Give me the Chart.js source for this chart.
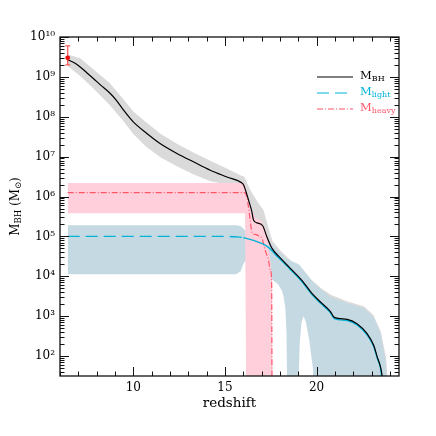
<!DOCTYPE html>
<html>
<head>
<meta charset="utf-8">
<script src="https://cdn.jsdelivr.net/npm/chart.js@4.4.0/dist/chart.umd.min.js"></script>
<style>
  html, body { margin: 0; padding: 0; background: #fff; }
  canvas { display: block; }
</style>
</head>
<body>
<canvas id="bh-chart" width="436" height="436"></canvas>
<script>
// observed quasar (z, mass, error range)
const quasarZ = [6.42];
const quasarMass = [3e9];
const quasarRange = [2e9, 6e9];

// total black hole mass, log10(M/Msun)
const zBH = [6.42, 6.8, 7.1, 7.45, 7.82, 8.2, 8.73, 9.1, 9.46, 10.0, 10.74, 11.46, 12.38, 13.28, 14.2, 15.11, 15.93, 16.02, 16.11, 16.29, 16.47, 16.56, 16.75, 17.07, 17.29, 17.57, 18.02, 18.57, 19.2, 19.75, 20.3, 20.75, 20.97, 21.67, 22.21, 22.76, 23.12, 23.31, 23.49, 23.58, 23.64];
const logBH = [9.43, 9.35, 9.25, 9.11, 8.96, 8.80, 8.59, 8.40, 8.17, 7.87, 7.58, 7.33, 7.08, 6.87, 6.66, 6.49, 6.34, 6.29, 6.18, 5.91, 5.62, 5.41, 5.34, 5.26, 4.99, 4.70, 4.46, 4.20, 3.90, 3.57, 3.32, 3.12, 2.97, 2.92, 2.81, 2.56, 2.27, 1.98, 1.73, 1.5, 1.2];

// light seeds
const zLight = [6.42, 15.0, 15.6, 16.0, 16.56, 17.2, 17.6, 17.84, 18.02, 18.57, 19.2, 19.75, 20.3, 20.75, 20.97, 21.67, 22.21, 22.76, 23.12, 23.31, 23.49, 23.6];
const logLight = [5.0, 5.0, 4.99, 4.97, 4.9, 4.78, 4.63, 4.5, 4.43, 4.17, 3.87, 3.54, 3.29, 3.09, 2.94, 2.89, 2.78, 2.53, 2.24, 1.95, 1.7, 1.3];

// heavy seeds
const zHeavy = [6.42, 16.08, 16.2, 16.38, 16.47, 16.66, 16.9, 17.02, 17.2, 17.38, 17.48, 17.55, 17.57];
const logHeavy = [6.10, 6.10, 5.98, 5.41, 5.11, 5.05, 5.0, 4.95, 4.65, 4.40, 4.15, 3.9, 1.0];

// scatter bands (upper / lower edge)
const zGrey = [6.42, 7.1, 7.8, 8.7, 9.5, 10.0, 10.7, 11.5, 12.4, 13.3, 14.2, 15.1, 15.9, 16.05, 16.4, 16.8, 17.1, 17.4, 17.6, 18.0, 18.6, 19.2, 19.8, 20.3, 20.8, 21.7, 22.6, 23.1, 23.5, 23.8, 23.9];
const greyHi = [9.56, 9.47, 9.2, 8.85, 8.42, 8.13, 7.86, 7.57, 7.32, 7.1, 6.9, 6.7, 6.52, 6.5, 6.15, 5.85, 5.66, 5.18, 4.88, 4.66, 4.39, 4.12, 3.88, 3.68, 3.53, 3.37, 3.24, 3.03, 2.62, 1.95, 1.2];
const greyLo = [9.27, 9.02, 8.72, 8.3, 7.87, 7.57, 7.25, 6.98, 6.75, 6.55, 6.38, 6.3, 6.0, 5.9, 5.3, 5.0, 4.85, 4.6, 4.3, 4.1, 3.9, 3.6, 3.3, 3.1, 2.9, 2.7, 2.4, 2.1, 1.6, 1.2, 1.2];

const zPink = [6.42, 16.0, 16.1, 16.16, 16.3, 16.5, 16.7, 17.0, 17.2, 17.35, 17.5, 17.57, 17.6];
const pinkHi = [6.34, 6.34, 6.30, 6.15, 5.92, 5.62, 5.45, 5.38, 5.2, 4.85, 4.3, 3.9, 1.0];
const pinkLo = [5.58, 5.58, 5.58, 1.0, 1.0, 1.0, 1.0, 1.0, 1.0, 1.0, 1.0, 1.0, 1.0];

const zBlue = [6.42, 15.6, 15.85, 16.0, 16.2, 16.6, 17.2, 17.57, 17.9, 18.1, 18.2, 18.3, 18.36, 18.4, 19.0, 19.08, 19.18, 19.3, 19.42, 19.6, 19.8, 19.85, 20.75, 21.7, 22.6, 23.1, 23.5, 23.75, 23.85];
const blueHi = [5.28, 5.28, 5.26, 5.2, 5.1, 4.95, 4.85, 4.78, 4.62, 4.55, 4.5, 4.46, 4.44, 4.43, 4.31, 4.28, 4.22, 4.15, 4.08, 3.98, 3.86, 3.83, 3.48, 3.32, 3.19, 2.98, 2.56, 1.9, 1.2];
const blueLo = [4.05, 4.05, 4.12, 4.3, 4.45, 4.45, 4.2, 3.92, 3.8, 3.65, 3.5, 3.2, 2.6, 1.0, 1.0, 2.3, 2.85, 3.0, 2.85, 2.4, 1.7, 1.0, 1.0, 1.0, 1.0, 1.0, 1.0, 1.0, 1.0];

// axes
const xTickValues = [10, 15, 20];
const yTickExps = [2, 3, 4, 5, 6, 7, 8, 9, 10];

const SERIF = '"DejaVu Serif", "Liberation Serif", serif';
const cBH = '#000';
const cLight = 'rgb(0,178,215)';
const cHeavy = 'rgb(255,85,105)';

function toPoints(zs, logs) {
    return zs.map((z, i) => ({x: z, y: Math.pow(10, logs[i])}));
}

function supNum(n) {
    const sup = '⁰¹²³⁴⁵⁶⁷⁸⁹';
    return String(n).split('').map(d => sup[+d]).join('');
}

function band(zs, logs, color, order, fill) {
    return {
        data: toPoints(zs, logs),
        showLine: true,
        borderWidth: 0,
        borderColor: 'rgba(0,0,0,0)',
        backgroundColor: color,
        pointRadius: 0,
        fill: fill,
        order: order
    };
}

// draws text pieces one after another (for subscripts)
function drawRich(ctx, parts, x, y) {
    let cx = x;
    for (const [text, size, dy] of parts) {
        ctx.font = size + 'px ' + SERIF;
        ctx.fillText(text, cx, y + dy);
        cx += ctx.measureText(text).width;
    }
}

function richWidth(ctx, parts) {
    let w = 0;
    for (const [text, size] of parts) {
        ctx.font = size + 'px ' + SERIF;
        w += ctx.measureText(text).width;
    }
    return w;
}

const frameTicks = {
    id: 'frameTicks',
    afterDatasetsDraw(chart) {
        const {ctx, chartArea: a, scales: {x, y}} = chart;
        ctx.save();
        ctx.strokeStyle = '#111';
        ctx.lineWidth = 1;
        ctx.beginPath();
        for (let z = Math.ceil(x.min); z <= x.max; z++) {
            const px = Math.round(x.getPixelForValue(z)) + 0.5;
            const len = z % 5 === 0 ? 9 : 4.5;
            ctx.moveTo(px, a.bottom); ctx.lineTo(px, a.bottom - len);
            ctx.moveTo(px, a.top); ctx.lineTo(px, a.top + len);
        }
        const e0 = Math.floor(Math.log10(y.min)), e1 = Math.ceil(Math.log10(y.max));
        for (let e = e0; e <= e1; e++) {
            for (let m = 1; m < 10; m++) {
                const v = m * Math.pow(10, e);
                if (v < y.min || v > y.max) continue;
                const py = Math.round(y.getPixelForValue(v)) + 0.5;
                const len = m === 1 ? 9 : 4.5;
                ctx.moveTo(a.left, py); ctx.lineTo(a.left + len, py);
                ctx.moveTo(a.right, py); ctx.lineTo(a.right - len, py);
            }
        }
        ctx.stroke();
        ctx.lineWidth = 1.3;
        ctx.strokeRect(a.left, a.top, a.right - a.left, a.bottom - a.top);
        ctx.restore();
    }
};

const yAxisLabel = {
    id: 'yAxisLabel',
    afterDraw(chart) {
        const {ctx, chartArea: a} = chart;
        const parts = [['M', 12, 0], ['BH', 8.5, 2.5], [' (M', 12, 0], ['⊙', 8.5, 2.5], [')', 12, 0]];
        ctx.save();
        ctx.fillStyle = '#000';
        ctx.textBaseline = 'alphabetic';
        ctx.translate(18.5, (a.top + a.bottom) / 2 + 0);
        ctx.rotate(-Math.PI / 2);
        const w = richWidth(ctx, parts);
        drawRich(ctx, parts, -w / 2 + 0, 0);
        ctx.restore();
    }
};

const legendBox = {
    id: 'legendBox',
    afterDraw(chart) {
        const {ctx, chartArea: a} = chart;
        const rows = [
            {color: cBH, dash: [], parts: [['M', 11.5, 0], ['BH', 8, 2.5]]},
            {color: cLight, dash: [12, 6], parts: [['M', 11.5, 0], ['light', 8, 2.5]]},
            {color: cHeavy, dash: [6, 2, 1, 2], parts: [['M', 11.5, 0], ['heavy', 8, 2.5]]}
        ];
        ctx.save();
        rows.forEach((r, i) => {
            const ly = a.top + 40 + i * 16;
            ctx.strokeStyle = r.color;
            ctx.lineWidth = 1.2;
            ctx.setLineDash(r.dash);
            ctx.beginPath();
            ctx.moveTo(a.right - 82, ly);
            ctx.lineTo(a.right - 46, ly);
            ctx.stroke();
            ctx.fillStyle = r.color;
            ctx.textBaseline = 'alphabetic';
            drawRich(ctx, r.parts, a.right - 39, ly + 1.5);
        });
        ctx.restore();
    }
};

Chart.defaults.font.family = SERIF;
Chart.defaults.color = '#000';

const ctx = document.getElementById('bh-chart').getContext('2d');
new Chart(ctx, {
    type: 'scatter',
    data: {
        datasets: [
            {   // 0 total BH mass
                data: toPoints(zBH, logBH),
                showLine: true, borderColor: cBH, borderWidth: 1.2,
                pointRadius: 0, cubicInterpolationMode: 'monotone', order: 1
            },
            {   // 1 light seeds
                data: toPoints(zLight, logLight),
                showLine: true, borderColor: cLight, borderWidth: 1.4,
                pointRadius: 0, cubicInterpolationMode: 'monotone', order: 2,
                segment: {borderDash: c => c.p0.parsed.x < 16 ? [12, 6] : undefined}
            },
            {   // 2 heavy seeds
                data: toPoints(zHeavy, logHeavy),
                showLine: true, borderColor: cHeavy, borderWidth: 1.2,
                borderDash: [6, 2, 1, 2],
                pointRadius: 0, cubicInterpolationMode: 'monotone', order: 3
            },
            {   // 3 quasar point
                data: quasarZ.map((z, i) => ({x: z, y: quasarMass[i]})),
                pointRadius: 2.4, pointBackgroundColor: 'rgb(235,15,15)',
                pointBorderWidth: 0, order: 0
            },
            {   // 4 quasar error bar
                data: quasarRange.map(m => ({x: quasarZ[0], y: m})),
                showLine: true, borderColor: 'rgb(255,95,95)', borderWidth: 1.3,
                pointStyle: 'line', pointRadius: 2.5,
                pointBorderColor: 'rgb(255,95,95)', pointBorderWidth: 1.3, order: 0.5
            },
            band(zGrey, greyHi, 'rgb(218,218,218)', 30, '+1'),   // 5
            band(zGrey, greyLo, 'rgba(0,0,0,0)', 31, false),     // 6
            band(zBlue, blueHi, 'rgb(197,217,226)', 20, '+1'),   // 7
            band(zBlue, blueLo, 'rgba(0,0,0,0)', 21, false),     // 8
            band(zPink, pinkHi, 'rgb(255,208,220)', 10, '+1'),   // 9
            band(zPink, pinkLo, 'rgba(0,0,0,0)', 11, false)      // 10
        ]
    },
    options: {
        responsive: false,
        animation: false,
        devicePixelRatio: 1,
        layout: {padding: {top: 37, right: 37, left: 0, bottom: 0}},
        plugins: {
            legend: {display: false},
            tooltip: {enabled: false}
        },
        elements: {line: {tension: 0}},
        scales: {
            x: {
                type: 'linear',
                min: 6,
                max: 24.5,
                grid: {display: false, drawTicks: false},
                border: {display: false},
                afterBuildTicks: s => { s.ticks = xTickValues.map(v => ({value: v})); },
                afterFit: s => { s.height = 60; },
                ticks: {
                    font: {size: 12}, color: '#000', padding: 5,
                    maxRotation: 0, autoSkip: false
                },
                title: {
                    display: true, text: 'redshift', color: '#000',
                    font: {size: 13.5}, padding: {top: 0, bottom: 24}
                }
            },
            y: {
                type: 'logarithmic',
                min: Math.pow(10, 1.5),
                max: 1e10,
                grid: {display: false, drawTicks: false},
                border: {display: false},
                afterBuildTicks: s => { s.ticks = yTickExps.map(e => ({value: Math.pow(10, e)})); },
                afterFit: s => { s.width = 60; },
                ticks: {
                    font: {size: 12}, color: '#000', padding: 5, autoSkip: false,
                    callback: v => '10' + supNum(Math.round(Math.log10(v)))
                },
                title: {display: false}
            }
        }
    },
    plugins: [frameTicks, yAxisLabel, legendBox]
});
</script>
</body>
</html>
